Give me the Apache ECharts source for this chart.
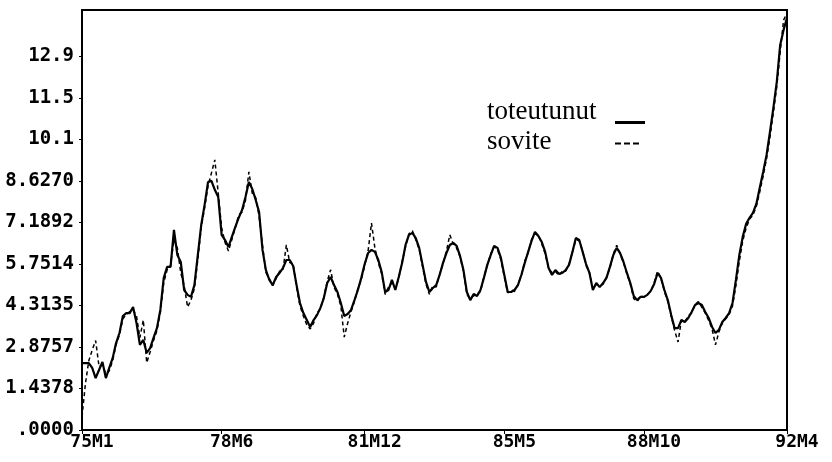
<!DOCTYPE html>
<html>
<head>
<meta charset="utf-8">
<script src="https://cdn.jsdelivr.net/npm/echarts@6/dist/echarts.min.js"></script>
<style>
  html, body { margin: 0; padding: 0; background: #fff; }
  #chart { width: 832px; height: 462px; }
</style>
</head>
<body>
<div id="chart"></div>
<script>
// monthly, 1975M1 .. 1992M4
const startYear = 75;
const monthCount = 208;

const xTickIdx = [0, 41, 83, 124, 165, 207];
const yTickLabels = ['.0000', '1.4378', '2.8757', '4.3135', '5.7514', '7.1892', '8.6270', '10.1', '11.5', '12.9'];
const yStep = 1.4378;

const toteutunut = [
  2.32, 2.32, 2.32, 2.15, 1.80, 2.08, 2.36, 1.80, 2.15, 2.49,
  3.01, 3.36, 3.95, 4.05, 4.05, 4.26, 3.71, 2.95, 3.12, 2.67,
  2.84, 3.19, 3.53, 4.16, 5.27, 5.65, 5.65, 6.93, 6.06, 5.82,
  4.85, 4.68, 4.61, 5.02, 6.06, 7.10, 7.80, 8.59, 8.63, 8.32,
  8.07, 6.76, 6.58, 6.34, 6.69, 7.03, 7.35, 7.62, 8.07, 8.59,
  8.35, 7.97, 7.55, 6.24, 5.54, 5.20, 5.02, 5.30, 5.44, 5.61,
  5.89, 5.89, 5.68, 5.02, 4.40, 4.05, 3.81, 3.57, 3.81, 3.98,
  4.23, 4.57, 5.09, 5.30, 5.02, 4.78, 4.40, 3.95, 4.02, 4.16,
  4.50, 4.85, 5.27, 5.75, 6.13, 6.24, 6.17, 5.89, 5.47, 4.78,
  4.85, 5.20, 4.85, 5.30, 5.79, 6.41, 6.76, 6.83, 6.65, 6.31,
  5.72, 5.13, 4.78, 4.92, 5.02, 5.37, 5.79, 6.13, 6.41, 6.48,
  6.38, 6.03, 5.54, 4.78, 4.50, 4.71, 4.64, 4.85, 5.27, 5.72,
  6.06, 6.38, 6.31, 5.96, 5.37, 4.78, 4.78, 4.85, 5.02, 5.37,
  5.79, 6.17, 6.55, 6.86, 6.72, 6.51, 6.17, 5.61, 5.37, 5.54,
  5.41, 5.44, 5.54, 5.72, 6.17, 6.65, 6.58, 6.17, 5.75, 5.44,
  4.85, 5.09, 4.95, 5.09, 5.27, 5.65, 6.06, 6.31, 6.13, 5.82,
  5.44, 5.09, 4.64, 4.50, 4.61, 4.61, 4.68, 4.82, 5.06, 5.44,
  5.27, 4.85, 4.50, 3.98, 3.53, 3.53, 3.81, 3.74, 3.88, 4.09,
  4.33, 4.40, 4.33, 4.09, 3.88, 3.57, 3.36, 3.47, 3.74, 3.88,
  4.05, 4.40, 5.20, 6.06, 6.69, 7.14, 7.35, 7.52, 7.83, 8.39,
  8.94, 9.53, 10.33, 11.16, 12.06, 13.34, 13.86, 14.28
];

const sovite = [
  0.45, 1.60, 2.40, 2.77, 3.10, 2.20, 2.25, 1.95, 2.05, 2.40,
  2.95, 3.30, 3.85, 4.00, 4.10, 4.15, 3.95, 3.20, 3.81, 2.33,
  2.70, 3.10, 3.45, 4.05, 5.10, 5.55, 5.70, 6.60, 6.30, 5.44,
  5.00, 4.26, 4.50, 4.90, 5.90, 7.00, 7.70, 8.45, 8.90, 9.36,
  8.20, 7.00, 6.50, 6.20, 6.60, 7.00, 7.45, 7.55, 7.95, 8.94,
  8.20, 8.05, 7.40, 6.40, 5.45, 5.25, 5.00, 5.25, 5.50, 5.55,
  6.41, 5.80, 5.75, 4.95, 4.30, 3.95, 3.65, 3.50, 3.70, 4.05,
  4.20, 4.60, 5.15, 5.55, 4.95, 4.70, 4.30, 3.22, 3.70, 4.10,
  4.45, 4.90, 5.20, 5.70, 6.20, 7.17, 6.30, 5.80, 5.40, 4.70,
  4.95, 5.10, 4.90, 5.25, 5.85, 6.35, 6.80, 6.90, 6.60, 6.25,
  5.65, 5.05, 4.70, 5.00, 4.95, 5.40, 5.75, 6.20, 6.76, 6.45,
  6.30, 6.00, 5.50, 4.70, 4.55, 4.65, 4.70, 4.80, 5.30, 5.70,
  6.10, 6.35, 6.25, 5.90, 5.30, 4.75, 4.85, 4.80, 5.05, 5.35,
  5.85, 6.15, 6.60, 6.80, 6.75, 6.45, 6.10, 5.60, 5.45, 5.50,
  5.35, 5.50, 5.50, 5.75, 6.15, 6.60, 6.55, 6.20, 5.70, 5.45,
  4.90, 5.05, 5.00, 5.05, 5.30, 5.60, 6.10, 6.40, 6.10, 5.80,
  5.40, 5.05, 4.55, 4.45, 4.65, 4.60, 4.70, 4.80, 5.10, 5.50,
  5.25, 4.80, 4.45, 3.95, 3.45, 3.05, 3.80, 3.75, 3.95, 4.05,
  4.35, 4.45, 4.25, 4.05, 3.80, 3.50, 2.95, 3.40, 3.70, 3.85,
  4.00, 4.30, 5.00, 5.85, 6.55, 7.00, 7.30, 7.45, 7.75, 8.25,
  8.80, 9.40, 10.15, 11.00, 11.90, 13.10, 14.20, 14.45
];

const categories = [];
for (let i = 0; i < monthCount; i++) {
  categories.push((startYear + Math.floor(i / 12)) + 'M' + (i % 12 + 1));
}

const monoFont = '"DejaVu Sans Mono", monospace';
const serifFont = '"Liberation Serif", "DejaVu Serif", serif';

const chart = echarts.init(document.getElementById('chart'));

// padding below the text moves it up against the legend line
function legendText(padBottom) {
  return {
    fontFamily: serifFont,
    fontSize: 27,
    color: '#000',
    rich: {
      a: { width: 123, align: 'left', fontFamily: serifFont, fontSize: 27, lineHeight: 26, padding: [0, 0, padBottom, 0], color: '#000' }
    }
  };
}

const option = {
  animation: false,
  backgroundColor: '#fff',
  grid: {
    left: 82, right: 45, top: 10, bottom: 32,
    outerBoundsMode: 'none',
    show: true,
    borderColor: '#000',
    borderWidth: 2
  },
  legend: [
    {
      data: ['toteutunut'],
      left: 482, top: 93,
      align: 'right',
      itemWidth: 30, itemHeight: 2,
      selectedMode: false,
      formatter: name => '{a|' + name + '}',
      itemStyle: { opacity: 0 },
      lineStyle: { width: 3, color: '#000' },
      textStyle: legendText(22)
    },
    {
      data: ['sovite'],
      left: 482, top: 123,
      align: 'right',
      itemWidth: 26, itemHeight: 2,
      selectedMode: false,
      formatter: name => '{a|' + name + '}',
      itemStyle: { opacity: 0 },
      lineStyle: { width: 2, color: '#000', type: [6, 3] },
      textStyle: legendText(4)
    }
  ],
  xAxis: {
    type: 'category',
    data: categories,
    boundaryGap: false,
    axisLine: { lineStyle: { color: '#000', width: 2 } },
    axisTick: {
      show: true,
      inside: false,
      length: 4,
      interval: idx => xTickIdx.includes(idx),
      lineStyle: { color: '#000' }
    },
    axisLabel: {
      interval: idx => xTickIdx.includes(idx),
      margin: 3,
      formatter: v => '{a|' + v + '}',
      rich: {
        a: { fontFamily: monoFont, fontWeight: 'bold', fontSize: 18, color: '#000', padding: [0, 0, 0, 20] }
      }
    },
    splitLine: { show: false }
  },
  yAxis: {
    type: 'value',
    min: 0,
    max: 14.55,
    interval: yStep,
    axisLine: { show: true, lineStyle: { color: '#000', width: 2 } },
    axisTick: {
      show: true,
      length: 3,
      customValues: yTickLabels.map((t, k) => k * yStep),
      lineStyle: { color: '#000' }
    },
    axisLabel: {
      margin: 8,
      showMaxLabel: false,
      fontFamily: monoFont,
      fontWeight: 'bold',
      fontSize: 19,
      color: '#000',
      formatter: v => {
        const k = Math.round(v / yStep);
        return Math.abs(v - k * yStep) < 0.01 && k < yTickLabels.length ? yTickLabels[k] : '';
      }
    },
    splitLine: { show: false }
  },
  series: [
    {
      name: 'sovite',
      type: 'line',
      data: sovite,
      symbol: 'none',
      lineStyle: { color: '#000', width: 1.5, type: [4, 3] },
      itemStyle: { color: '#000' }
    },
    {
      name: 'toteutunut',
      type: 'line',
      data: toteutunut,
      symbol: 'none',
      lineStyle: { color: '#000', width: 2.2 },
      itemStyle: { color: '#000' }
    }
  ]
};

chart.setOption(option);
</script>
</body>
</html>
